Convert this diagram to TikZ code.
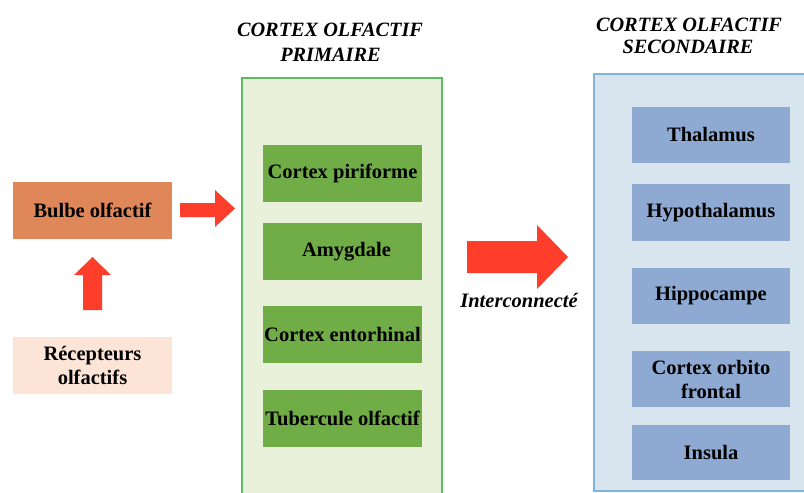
\documentclass[tikz,border=0pt]{standalone}
\usepackage{fontspec}
\setmainfont{Liberation Serif}
\definecolor{prbg}{HTML}{E9F1DA}
\definecolor{prbd}{HTML}{5DBB63}
\definecolor{prin}{HTML}{70AD47}
\definecolor{sebg}{HTML}{D8E5EF}
\definecolor{sebd}{HTML}{7DB4D8}
\definecolor{sein}{HTML}{8FAAD2}
\definecolor{bulbe}{HTML}{E0875A}
\definecolor{recep}{HTML}{FCE4D6}
\definecolor{arr}{HTML}{FF3D2B}
\tikzset{
  lbl/.style={font=\fontsize{20.5}{24}\selectfont\bfseries, align=center, inner sep=0pt},
  ttl/.style={font=\fontsize{20.3}{24}\selectfont\bfseries\itshape, inner sep=0pt},
  rbox/.style={draw=none, inner sep=0pt, minimum width=159pt, minimum height=57pt},
  bigarrow/.style={fill=arr, draw=none}
}
\begin{document}
\begin{tikzpicture}[x=1pt,y=-1pt]
\useasboundingbox (0,0) rectangle (804,493);
\clip (0,0) rectangle (804,493);
% containers
\fill[prbg] (242,78) rectangle (442,500);
\draw[prbd, line width=1.2pt] (242,500) -- (242,78) -- (442,78) -- (442,500);
\fill[sebg] (594,74) rectangle (810,491);
\draw[sebd, line width=1.2pt] (810,74) -- (594,74) -- (594,491) -- (810,491);
% titles
\node[ttl] (t1a) at (330,30) {CORTEX OLFACTIF};
\node[ttl] (t1b) at (330.5,55) {PRIMAIRE};
\node[ttl] (t2a) at (689,25) {CORTEX OLFACTIF};
\node[ttl] (t2b) at (688,47) {SECONDAIRE};
% left boxes
\node[rbox, fill=bulbe, lbl] (bulbe) at (92.5,210.5) {Bulbe olfactif};
\node[rbox, fill=recep, lbl] (recep) at (92.5,365) {Récepteurs\\olfactifs};
% primary boxes
\node[rbox, fill=prin, lbl] (p1) at (342.5,173.5) {Cortex piriforme};
\node[rbox, fill=prin, lbl] (p2) at (342.5,251.5) {\hspace{8pt}Amygdale};
\node[rbox, fill=prin, lbl] (p3) at (342.5,334.5) {Cortex entorhinal};
\node[rbox, fill=prin, lbl] (p4) at (342.5,418.5) {Tubercule olfactif};
% secondary boxes
\node[rbox, fill=sein, lbl, minimum width=158pt, minimum height=56pt] (s1) at (711,135) {Thalamus};
\node[rbox, fill=sein, lbl, minimum width=158pt, minimum height=57pt] (s2) at (711,212.5) {Hypothalamus};
\node[rbox, fill=sein, lbl, minimum width=158pt, minimum height=56pt] (s3) at (711,296) {Hippocampe};
\node[rbox, fill=sein, lbl, minimum width=158pt, minimum height=56pt] (s4) at (711,379) {Cortex orbito\\frontal};
\node[rbox, fill=sein, lbl, minimum width=158pt, minimum height=55pt] (s5) at (711,452.5) {Insula};
% arrows
\fill[bigarrow] (180,203) -- (215,203) -- (215,190) -- (235,208.5) -- (215,227) -- (215,217) -- (180,217) -- cycle;
\fill[bigarrow] (83,310) -- (83,275) -- (74,275) -- (92.5,257) -- (111,275) -- (102,275) -- (102,310) -- cycle;
\fill[bigarrow] (467,241) -- (537,241) -- (537,225) -- (568,257) -- (537,289) -- (537,273) -- (467,273) -- cycle;
\node[ttl, font=\fontsize{20.5}{24}\selectfont\bfseries\itshape] (inter) at (519,300) {Interconnecté};
\end{tikzpicture}
\end{document}
